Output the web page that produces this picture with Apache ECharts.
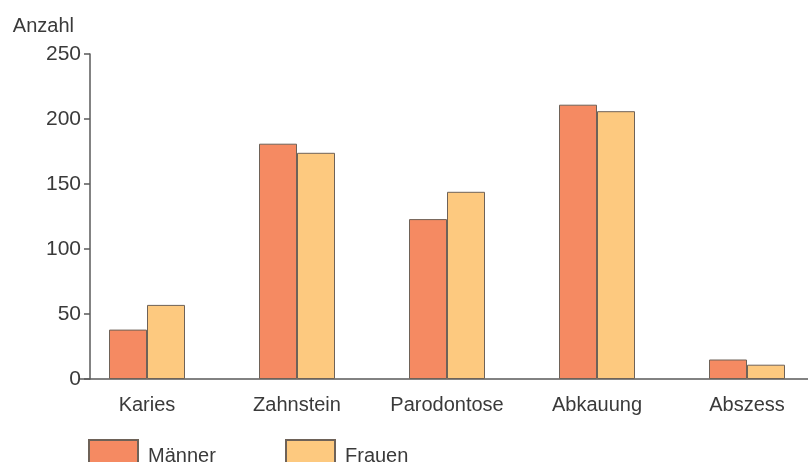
<!DOCTYPE html>
<html>
<head>
<meta charset="utf-8">
<script src="https://cdn.jsdelivr.net/npm/echarts@6/dist/echarts.min.js"></script>
<style>
  html, body { margin: 0; padding: 0; background: #fff; }
  #chart { width: 808px; height: 462px; }
</style>
</head>
<body>
<div id="chart"></div>
<script>
// Befunde nach Geschlecht
const categories = ['Karies', 'Zahnstein', 'Parodontose', 'Abkauung', 'Abszess'];
const maenner = [38, 181, 123, 211, 15];
const frauen = [57, 174, 144, 206, 11];
const yTicks = { min: 0, max: 250, interval: 50 };
const seriesNames = ['Männer', 'Frauen'];

const font = 'Liberation Sans, Arial, sans-serif';
const textColor = '#3a3a3a';
const axisColor = '#5a5a5a';

const legendStyle = {
  top: 439, padding: 0, itemWidth: 49, itemHeight: 32, itemGap: 0,
  icon: 'rect', textStyle: { fontFamily: font, fontSize: 20, color: textColor, padding: [0, 0, 0, 5] }
};

const chart = echarts.init(document.getElementById('chart'));
chart.setOption({
  animation: false,
  grid: [
    // categories sit on the ticks (boundaryGap false), 150 px apart
    { left: 147, right: 61, top: 54, bottom: 83 },
    // baseline and value axis frame
    { left: 80, right: 0, top: 54, bottom: 83 }
  ],
  legend: [
    Object.assign({}, legendStyle, { data: [seriesNames[0]], left: 88 }),
    Object.assign({}, legendStyle, { data: [seriesNames[1]], left: 285 })
  ],
  xAxis: [
    {
      type: 'category', gridIndex: 0, data: categories, boundaryGap: false,
      axisLine: { show: false }, axisTick: { show: false },
      axisLabel: { interval: 0, fontFamily: font, fontSize: 20, color: textColor, margin: 16 }
    },
    {
      type: 'value', gridIndex: 1, min: 0, max: 1,
      axisLine: { show: true, lineStyle: { color: axisColor, width: 1.5 } },
      axisTick: { show: false }, axisLabel: { show: false }, splitLine: { show: false }
    }
  ],
  yAxis: [
    { type: 'value', gridIndex: 0, show: false, min: yTicks.min, max: yTicks.max, interval: yTicks.interval },
    {
      type: 'value', gridIndex: 1, min: yTicks.min, max: yTicks.max, interval: yTicks.interval,
      offset: -10,
      name: 'Anzahl', nameLocation: 'end', nameGap: 18,
      nameTextStyle: { fontFamily: font, fontSize: 20, color: textColor, align: 'right', padding: [0, 16, 0, 0] },
      axisLine: { show: true, lineStyle: { color: axisColor, width: 1.5 } },
      axisTick: { show: true, inside: false, length: 6, lineStyle: { color: axisColor, width: 1.5 } },
      axisLabel: { fontFamily: font, fontSize: 21, color: textColor, margin: 9 },
      splitLine: { show: false }
    }
  ],
  series: [
    {
      name: seriesNames[0], type: 'bar', data: maenner, xAxisIndex: 0, yAxisIndex: 0,
      barWidth: 38, barGap: '0%',
      itemStyle: { color: '#F58A62', borderColor: '#6e6258', borderWidth: 1 }
    },
    {
      name: seriesNames[1], type: 'bar', data: frauen, xAxisIndex: 0, yAxisIndex: 0,
      barWidth: 38, barGap: '0%',
      itemStyle: { color: '#FDC97F', borderColor: '#6e6258', borderWidth: 1 }
    }
  ]
});
</script>
</body>
</html>
